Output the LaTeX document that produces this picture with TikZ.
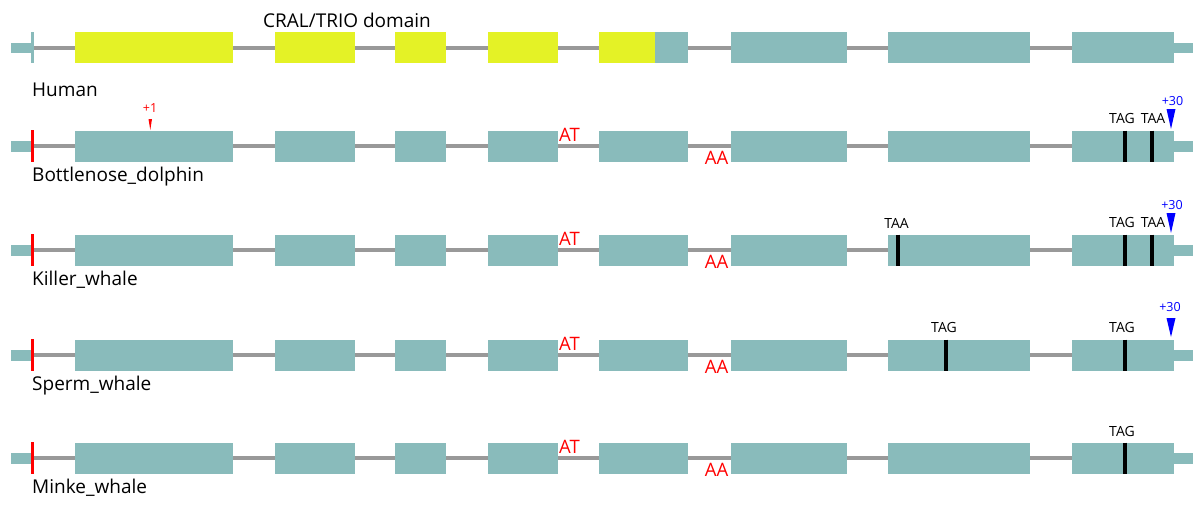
\documentclass[tikz,border=0pt]{standalone}
\usepackage{fontspec}
\setmainfont{Open Sans}
\usepackage{tikz}

\definecolor{exoncol}{HTML}{89BBBB}
\definecolor{cralcol}{HTML}{E4F226}
\definecolor{introncol}{HTML}{999999}

\tikzset{
  exon/.style={fill=exoncol},
  cralbox/.style={fill=cralcol},
  intron/.style={introncol, line width=4pt},
  stopbar/.style={black, line width=4pt},
  species/.style={anchor=base west, inner sep=0pt, font=\fontsize{19}{22}\selectfont},
  codon/.style={anchor=base, inner sep=0pt, font=\fontsize{14}{16}\selectfont},
  frameshift/.style={anchor=base, inner sep=0pt, red, font=\fontsize{18.5}{21}\selectfont},
  shiftmark/.style={anchor=base, inner sep=0pt, font=\fontsize{12.5}{14}\selectfont},
}

\begin{document}
\begin{tikzpicture}[x=1pt, y=-1pt]

  \useasboundingbox (0, 0) rectangle (1195, 504);

    % Human
    \draw[intron] (32, 47.5) -- (1174, 47.5);
    \fill[exoncol] (11, 42.5) rectangle (32, 53);
    \fill[exoncol] (1174, 42.5) rectangle (1193, 53);
    \fill[exoncol] (31, 32) rectangle (34, 63);
    \foreach \xa/\xb in {75/233, 275/355, 395/446, 488/558, 599/655}
      \fill[cralbox] (\xa, 32) rectangle (\xb, 63);
    \foreach \xa/\xb in {655/688, 731/847, 888/1030, 1072/1174}
      \fill[exon] (\xa, 32) rectangle (\xb, 63);
    \node[species] (human) at (32, 96) {Human};
    \node[anchor=base west, inner sep=0pt, font=\fontsize{19}{22}\selectfont] (cral) at (263, 27) {CRAL/TRIO domain};

    % Cetaceans: same exon layout, red start tick, AT / AA shifts
    \foreach \y/\name/\id in {146/Bottlenose\_dolphin/dolphin, 250/Killer\_whale/orca,
                              355/Sperm\_whale/sperm, 458/Minke\_whale/minke} {
      \draw[intron] (32, \y) -- (1174, \y);
      \fill[exoncol] (11, \y-5) rectangle (32, \y+5.5);
      \fill[exoncol] (1174, \y-5) rectangle (1193, \y+5.5);
      \foreach \xa/\xb in {75/233, 275/355, 395/446, 488/558, 599/688, 731/847, 888/1030, 1072/1174}
        \fill[exon] (\xa, \y-15.5) rectangle (\xb, \y+15.5);
      \fill[red] (31, \y-16) rectangle (34, \y+16);
      \node[frameshift] (at-\id) at (569.5, \y-5) {AT};
      \node[frameshift] (aa-\id) at (716.5, \y+18) {AA};
      \node[species] (\id) at (32, \y+35.5) {\name};
    }

    % Bottlenose dolphin
    \fill[red] (148.5, 119) -- (152, 119) -- (150.3, 130) -- cycle;
    \node[shiftmark, red] (plusone) at (150, 112) {+1};
    \draw[stopbar] (1125, 130.5) -- (1125, 161.5);
    \draw[stopbar] (1152, 130.5) -- (1152, 161.5);
    \node[codon] (tag-dolphin) at (1122, 123) {TAG};
    \node[codon] (taa-dolphin) at (1153, 123) {TAA};
    \fill[blue] (1166.5, 109) -- (1175.5, 109) -- (1171, 129) -- cycle;
    \node[shiftmark, blue] (plus-dolphin) at (1172.5, 105) {+30};

    % Killer whale
    \draw[stopbar] (898, 234.5) -- (898, 265.5);
    \draw[stopbar] (1125, 234.5) -- (1125, 265.5);
    \draw[stopbar] (1152, 234.5) -- (1152, 265.5);
    \node[codon] (taa1-orca) at (896.5, 228) {TAA};
    \node[codon] (tag-orca) at (1122, 227) {TAG};
    \node[codon] (taa2-orca) at (1153, 227) {TAA};
    \fill[blue] (1166.5, 213) -- (1175.5, 213) -- (1171, 233) -- cycle;
    \node[shiftmark, blue] (plus-orca) at (1172, 209) {+30};

    % Sperm whale
    \draw[stopbar] (946, 339.5) -- (946, 370.5);
    \draw[stopbar] (1125, 339.5) -- (1125, 370.5);
    \node[codon] (tag1-sperm) at (944, 332) {TAG};
    \node[codon] (tag2-sperm) at (1122, 332) {TAG};
    \fill[blue] (1166.5, 318) -- (1175.5, 318) -- (1171, 337) -- cycle;
    \node[shiftmark, blue] (plus-sperm) at (1170, 311) {+30};

    % Minke whale
    \draw[stopbar] (1125, 442.5) -- (1125, 473.5);
    \node[codon] (tag-minke) at (1122, 436) {TAG};

\end{tikzpicture}
\end{document}
